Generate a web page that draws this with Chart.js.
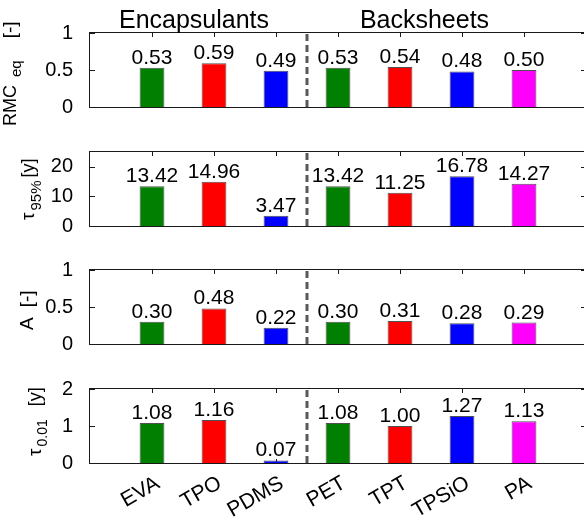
<!DOCTYPE html>
<html>
<head>
<meta charset="utf-8">
<script src="https://cdn.jsdelivr.net/npm/chart.js@4.4.1/dist/chart.umd.min.js"></script>
<style>
  html, body { margin: 0; padding: 0; background: #fff; overflow: hidden; width: 584px; height: 526px; }
  #wrap { position: relative; width: 584px; height: 526px; overflow: hidden; }
  canvas { position: absolute; left: 0; top: 0; }
</style>
</head>
<body>
<div id="wrap">
  <canvas id="rmc" width="600" height="526"></canvas>
  <canvas id="tau95" width="600" height="526"></canvas>
  <canvas id="aging" width="600" height="526"></canvas>
  <canvas id="tau001" width="600" height="526"></canvas>
</div>
<script>
// ================== data ======================
const materials = ["EVA", "TPO", "PDMS", "PET", "TPT", "TPSiO", "PA"];
const barColors = ["#007f00", "#ff0000", "#0000ff", "#007f00", "#ff0000", "#0000ff", "#ff00ff"];
const groups = ["Encapsulants", "Backsheets"];

const rmcValues = [0.53, 0.59, 0.49, 0.53, 0.54, 0.48, 0.50];
const tau95Values = [13.42, 14.96, 3.47, 13.42, 11.25, 16.78, 14.27];
const aValues = [0.30, 0.48, 0.22, 0.30, 0.31, 0.28, 0.29];
const tau001Values = [1.08, 1.16, 0.07, 1.08, 1.00, 1.27, 1.13];

const rmcTicks = [0, 0.5, 1];
const tau95Ticks = [0, 10, 20];
const aTicks = [0, 0.5, 1];
const tau001Ticks = [0, 1, 2];

const FONT = "'Liberation Sans', Arial, Helvetica, sans-serif";
Chart.defaults.font.family = FONT;
Chart.defaults.color = "#000";

// ================== panel layout ======================
// title parts: [text, font size, baseline shift, gap before]
const panels = [
  { id: "rmc", values: rmcValues, ticks: rmcTicks, max: 1, top: 33, bottom: 107,
    title: [["RMC", 18, 0, 0], ["eq", 15, 5, 8], ["[-]", 19, 0, 22]], titleX: 16, titleY: 126 },
  { id: "tau95", values: tau95Values, ticks: tau95Ticks, max: 25, top: 152, bottom: 226,
    title: [["\u03c4", 19, 0, 0], ["95%", 15, 7, 2], ["[y]", 18, 0, 3]], titleX: 34, titleY: 220 },
  { id: "aging", values: aValues, ticks: aTicks, max: 1, top: 270, bottom: 344,
    title: [["A", 19, 0, 0], ["[-]", 19, 0, 10]], titleX: 33, titleY: 330 },
  { id: "tau001", values: tau001Values, ticks: tau001Ticks, max: 2, top: 389, bottom: 463,
    title: [["\u03c4", 19, 0, 0], ["0.01", 14, 6, 2], ["[y]", 18, 0, 13]], titleX: 41, titleY: 456 },
];

const LINE = "#1a1a1a";

function crisp(v) {
  return Math.round(v) + 0.5;
}

// box, inner ticks, divider, value labels and axis titles
function decor(p, first) {
  return {
    id: "decor",
    beforeDatasetsDraw(chart) {
      const { ctx, chartArea: a, scales } = chart;
      ctx.save();
      ctx.strokeStyle = LINE;
      ctx.lineWidth = 1;
      ctx.beginPath();
      p.ticks.forEach((v) => {
        const y = crisp(scales.y.getPixelForValue(v));
        ctx.moveTo(a.left, y); ctx.lineTo(a.left + 5, y);
        ctx.moveTo(a.right, y); ctx.lineTo(a.right - 5, y);
      });
      for (let i = 1; i <= materials.length; i++) {
        const x = crisp(scales.x.getPixelForValue(i));
        ctx.moveTo(x, a.top); ctx.lineTo(x, a.top + 4);
        ctx.moveTo(x, a.bottom); ctx.lineTo(x, a.bottom - 4);
      }
      ctx.stroke();
      ctx.restore();
    },
    afterDatasetsDraw(chart) {
      const { ctx, chartArea: a, scales } = chart;
      ctx.save();

      // axes box
      ctx.strokeStyle = LINE;
      ctx.lineWidth = 1;
      ctx.strokeRect(crisp(a.left) - 1, crisp(a.top) - 1, Math.round(a.right - a.left), Math.round(a.bottom - a.top) + 1);

      // dashed divider between the two material groups
      const xd = (scales.x.getPixelForValue(3) + scales.x.getPixelForValue(4)) / 2;
      ctx.strokeStyle = "#595959";
      ctx.lineWidth = 3;
      ctx.setLineDash([7, 4]);
      ctx.beginPath();
      ctx.moveTo(xd, a.top + 1);
      ctx.lineTo(xd, a.bottom);
      ctx.stroke();
      ctx.setLineDash([]);

      // value labels above bars
      ctx.fillStyle = "#000";
      ctx.font = "21px " + FONT;
      ctx.textAlign = "center";
      ctx.textBaseline = "alphabetic";
      chart.getDatasetMeta(0).data.forEach((bar, i) => {
        const v = chart.data.datasets[0].data[i];
        if (v === null) return;
        ctx.fillText(v.toFixed(2), bar.x, bar.y - 4);
      });

      // y axis title with subscript
      ctx.translate(p.titleX, p.titleY);
      ctx.rotate(-Math.PI / 2);
      ctx.textAlign = "left";
      let pos = 0;
      p.title.forEach(([t, size, shift, gap]) => {
        pos += gap;
        ctx.font = size + "px " + FONT;
        ctx.fillText(t, pos, shift);
        pos += ctx.measureText(t).width;
      });
      ctx.setTransform(1, 0, 0, 1, 0, 0);

      // group headers
      if (first) {
        ctx.font = "25px " + FONT;
        ctx.textAlign = "center";
        ctx.fillText(groups[0], 194, 28);
        ctx.fillText(groups[1], 424.5, 28);
      }
      ctx.restore();
    },
  };
}

function buildPanel(p, idx) {
  const last = idx === panels.length - 1;
  const labels = ["", ...materials, ""];
  const data = [null, ...p.values, null];
  const colors = ["rgba(0,0,0,0)", ...barColors, "rgba(0,0,0,0)"];
  return new Chart(document.getElementById(p.id), {
    type: "bar",
    data: {
      labels: labels,
      datasets: [
        {
          data: data,
          backgroundColor: colors,
          borderColor: "#505050",
          borderWidth: 1,
          barPercentage: 0.4,
          categoryPercentage: 1,
        },
      ],
    },
    options: {
      responsive: false,
      animation: false,
      events: [],
      layout: { padding: { left: 0, right: 14, top: p.top, bottom: last ? 0 : 526 - p.bottom } },
      plugins: { legend: { display: false }, tooltip: { enabled: false } },
      scales: {
        x: {
          display: last,
          offset: false,
          grid: { display: false },
          border: { display: false },
          ticks: {
            autoSkip: false,
            minRotation: 30,
            maxRotation: 30,
            padding: 0,
            labelOffset: 6,
            color: "#000",
            font: { size: 21 },
          },
          afterFit: (s) => { if (last) s.height = 526 - p.bottom; },
        },
        y: {
          min: 0,
          max: p.max,
          grid: { display: false },
          border: { display: false },
          afterBuildTicks: (s) => { s.ticks = p.ticks.map((v) => ({ value: v })); },
          afterFit: (s) => { s.width = 90; },
          ticks: {
            padding: 9,
            color: "#000",
            font: { size: 20 },
            callback: (v) => String(v),
          },
        },
      },
    },
    plugins: [decor(p, idx === 0)],
  });
}

panels.forEach(buildPanel);
</script>
</body>
</html>
